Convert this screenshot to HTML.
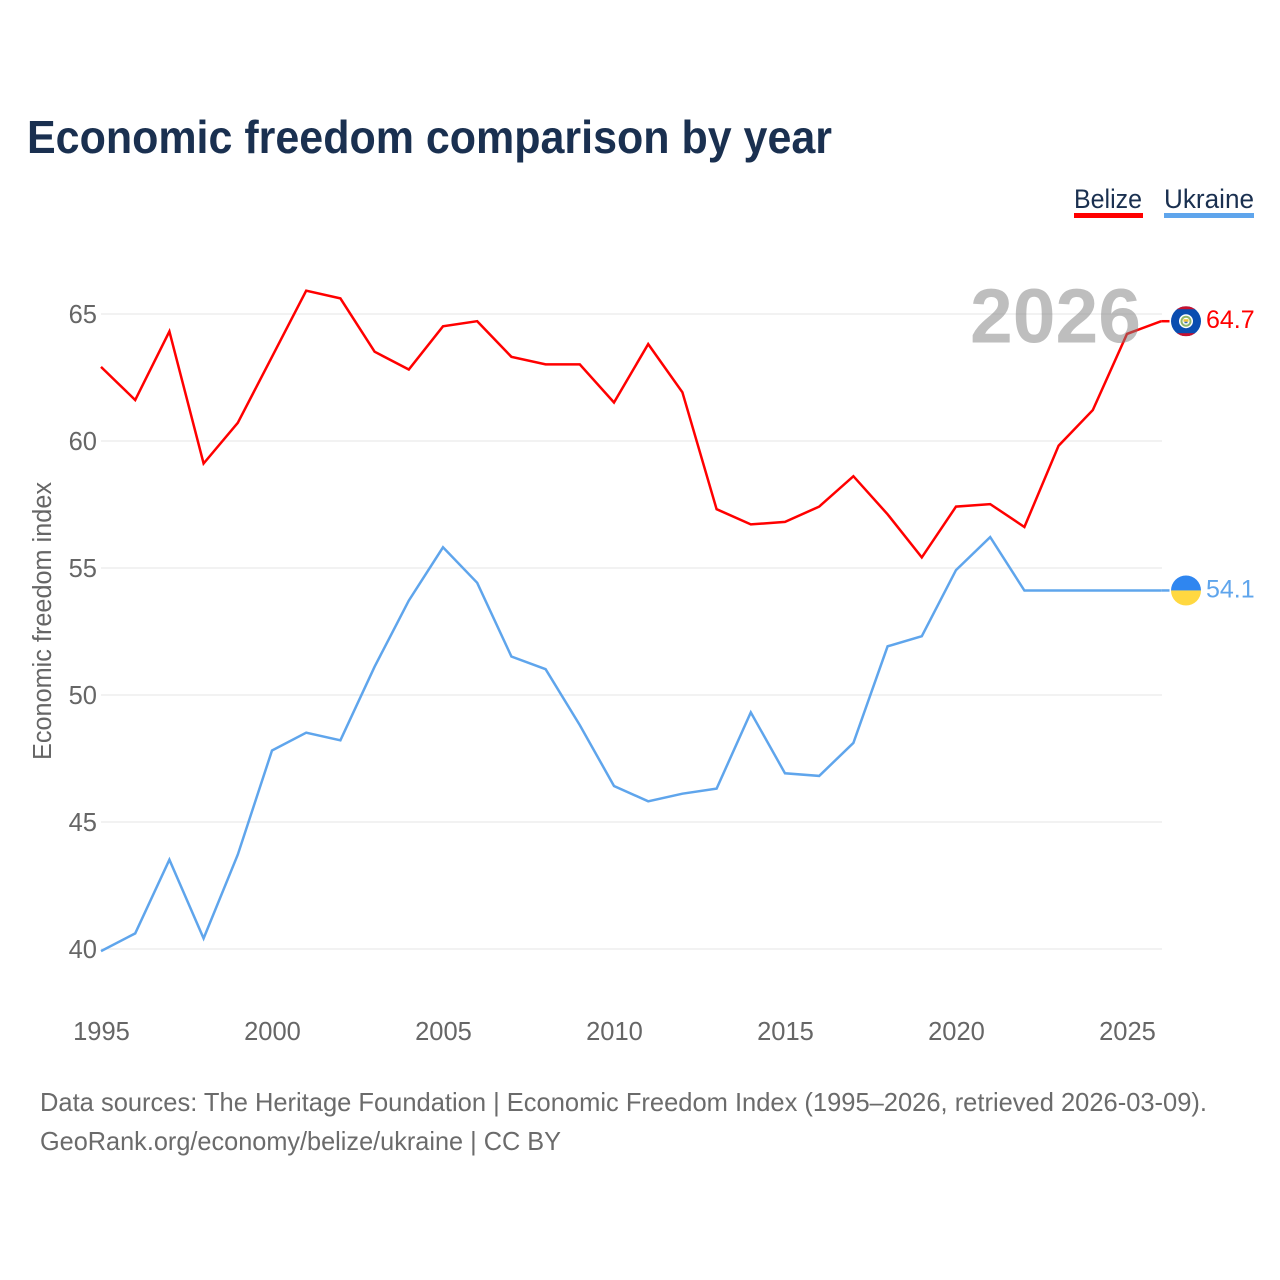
<!DOCTYPE html>
<html lang="en">
<head>
<meta charset="utf-8">
<title>Economic freedom comparison by year</title>
<style>
html,body{margin:0;padding:0;background:#fff;}
svg{display:block;font-family:"Liberation Sans",sans-serif;}
.tick{font-size:25.5px;fill:#666;}
.foot{font-size:26px;fill:#6b6b6b;}
.legend{font-size:27px;fill:#1a3050;}
</style>
</head>
<body>
<svg id="chart" width="1280" height="1280" viewBox="0 0 1280 1280">
  <rect width="1280" height="1280" fill="#fff"/>
  <text x="27" y="153" font-size="46" font-weight="700" fill="#1a3050" textLength="805" lengthAdjust="spacingAndGlyphs">Economic freedom comparison by year</text>

  <g>
    <text class="legend" x="1074" y="208" textLength="68" lengthAdjust="spacingAndGlyphs">Belize</text>
    <rect x="1074" y="213" width="69" height="5" fill="#ff0000"/>
  </g>
  <g>
    <text class="legend" x="1164" y="208" textLength="90" lengthAdjust="spacingAndGlyphs">Ukraine</text>
    <rect x="1164" y="213" width="90" height="5" fill="#5fa5ec"/>
  </g>

  <g id="grid"></g>
  <g id="yticks"></g>
  <g id="xticks"></g>
  <text class="tick" transform="translate(51,621) rotate(-90)" text-anchor="middle" textLength="278" lengthAdjust="spacingAndGlyphs">Economic freedom index</text>

  <g id="series"></g>

  <text id="year-label" x="970" y="342.5" font-size="77" font-weight="700" fill="rgba(125,125,125,0.5)" textLength="171" lengthAdjust="spacingAndGlyphs">2026</text>

  <defs>
    <clipPath id="clip-belize"><circle cx="0" cy="0" r="15"/></clipPath>
    <clipPath id="clip-ukraine"><circle cx="0" cy="0" r="15"/></clipPath>
  </defs>
  <g id="flag-belize">
    <g clip-path="url(#clip-belize)">
      <rect x="-15" y="-15" width="30" height="30" fill="#0a4db0"/>
      <rect x="-15" y="-15" width="30" height="3" fill="#c8102e"/>
      <rect x="-15" y="12" width="30" height="3" fill="#c8102e"/>
    </g>
    <circle r="7" fill="#fff"/>
    <circle r="5.5" fill="#8fb56a"/>
    <circle r="3.5" fill="#fff"/>
    <rect x="-2.5" y="-2" width="5" height="2.5" fill="#f2c230"/>
    <rect x="-1.5" y="0.5" width="3" height="1.5" fill="#3b6fb5"/>
  </g>
  <g id="flag-ukraine">
    <g clip-path="url(#clip-ukraine)">
      <rect x="-15" y="-15" width="30" height="15" fill="#2f86f0"/>
      <rect x="-15" y="0" width="30" height="15" fill="#ffd840"/>
    </g>
  </g>
  <text id="value-belize" x="1206" font-size="25" fill="#ff0000"></text>
  <text id="value-ukraine" x="1206" font-size="25" fill="#5fa5ec"></text>

  <text class="foot" x="40" y="1111" textLength="1167" lengthAdjust="spacingAndGlyphs">Data sources: The Heritage Foundation | Economic Freedom Index (1995–2026, retrieved 2026-03-09).</text>
  <text class="foot" x="40" y="1150" textLength="521" lengthAdjust="spacingAndGlyphs">GeoRank.org/economy/belize/ukraine | CC BY</text>
</svg>
<script>
var years = [1995,1996,1997,1998,1999,2000,2001,2002,2003,2004,2005,2006,2007,2008,2009,2010,2011,2012,2013,2014,2015,2016,2017,2018,2019,2020,2021,2022,2023,2024,2025,2026];
var belize = [62.9,61.6,64.3,59.1,60.7,63.3,65.9,65.6,63.5,62.8,64.5,64.7,63.3,63.0,63.0,61.5,63.8,61.9,57.3,56.7,56.8,57.4,58.6,57.1,55.4,57.4,57.5,56.6,59.8,61.2,64.2,64.7];
var ukraine = [39.9,40.6,43.5,40.4,43.7,47.8,48.5,48.2,51.1,53.7,55.8,54.4,51.5,51.0,48.8,46.4,45.8,46.1,46.3,49.3,46.9,46.8,48.1,51.9,52.3,54.9,56.2,54.1,54.1,54.1,54.1,54.1];
var yTickLabels = [40,45,50,55,60,65];
var xTickLabels = [1995,2000,2005,2010,2015,2020,2025];

var NS = 'http://www.w3.org/2000/svg';
function xScale(year){ return 101 + (year - 1995) * 34.2; }
function yScale(v){ return 948.6 - (v - 40) * 25.4; }
function make(tag, attrs, parent){
  var el = document.createElementNS(NS, tag);
  for (var k in attrs) el.setAttribute(k, attrs[k]);
  parent.appendChild(el);
  return el;
}
var grid = document.getElementById('grid');
var yG = document.getElementById('yticks');
var xG = document.getElementById('xticks');
var seriesG = document.getElementById('series');

yTickLabels.forEach(function(v){
  var line = make('line', {x1:101, x2:1162, y1:yScale(v) + 0.4, y2:yScale(v) + 0.4, stroke:'#e9e9e9', 'stroke-width':1.2}, grid);
  
  
  var t = make('text', {x:97, y:yScale(v) + 9.4, 'text-anchor':'end', 'class':'tick'}, yG);
  t.textContent = v;
  
  
});
xTickLabels.forEach(function(y){
  var t = make('text', {x:xScale(y) + 0.5, y:1040, 'text-anchor':'middle', 'class':'tick'}, xG);
  t.textContent = y;
  
  
});
function drawSeries(values, color, name){
  var pts = values.map(function(v, i){ return xScale(years[i]).toFixed(1) + ',' + yScale(v).toFixed(1); }).join(' ');
  var line = make('polyline', {points:pts, fill:'none', stroke:color, 'stroke-width':2.5, 'stroke-linejoin':'miter'}, seriesG);
  
  
  var lastY = yScale(values[values.length - 1]);
  var lastX = xScale(years[years.length - 1]);
  var lead = make('line', {x1:lastX, x2:1169.5, y1:lastY, y2:lastY, stroke:color, 'stroke-width':2.5}, seriesG);
  
  
  document.getElementById('flag-' + name).setAttribute('transform', 'translate(1186,' + lastY + ')');
  var label = document.getElementById('value-' + name);
  label.setAttribute('y', lastY + 6.8);
  label.textContent = values[values.length - 1].toFixed(1);
}
drawSeries(belize, '#ff0000', 'belize');
drawSeries(ukraine, '#5fa5ec', 'ukraine');
</script>
</body>
</html>
